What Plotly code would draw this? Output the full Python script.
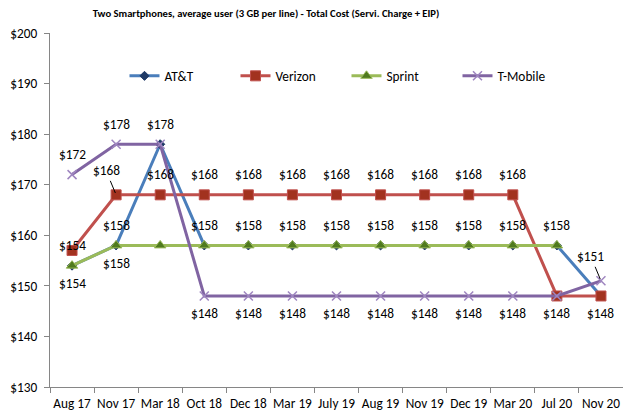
import plotly.graph_objects as go

categories = ["Aug 17", "Nov 17", "Mar 18", "Oct 18", "Dec 18", "Mar 19", "July 19",
              "Aug 19", "Nov 19", "Dec 19", "Mar 20", "Jul 20", "Nov 20"]
att = [154, 158, 178, 158, 158, 158, 158, 158, 158, 158, 158, 158, 148]
verizon = [157, 168, 168, 168, 168, 168, 168, 168, 168, 168, 168, 148, 148]
sprint = [154, 158, 158, 158, 158, 158, 158, 158, 158, 158, 158, 158, None]
tmobile = [172, 178, 178, 148, 148, 148, 148, 148, 148, 148, 148, 148, 151]

# label placement: a = above, b = below, l = leader line, "" = hidden
att_lbl = ["a", "a", "a", "a", "a", "a", "a", "a", "a", "a", "a", "a", "b"]
verizon_lbl = ["", "l", "a", "a", "a", "a", "a", "a", "a", "a", "a", "", ""]
sprint_lbl = ["b", "b", "", "", "", "", "", "", "", "", "", "", ""]
tmobile_lbl = ["a", "a", "", "b", "b", "b", "b", "b", "b", "b", "b", "b", "l"]

FONT = "Carlito, Liberation Sans, Arial, sans-serif"
FS = 13.3

series = [
    ("AT&T", att, att_lbl, "#4A7EBB", dict(symbol="diamond", size=7, color="#1F3A66",
                                          line=dict(color="#1F3A66", width=1))),
    ("Verizon", verizon, verizon_lbl, "#C0504D", dict(symbol="square", size=10, color="#A2321F",
                                                       line=dict(color="#C0504D", width=1))),
    ("Sprint", sprint, sprint_lbl, "#9BBB59", dict(symbol="triangle-up", size=10, color="#4F7A1E",
                                                    line=dict(color="#9BBB59", width=1))),
    ("T-Mobile", tmobile, tmobile_lbl, "#8064A2", dict(symbol="x-thin", size=9, color="#8064A2",
                                                        line=dict(color="#9F86C0", width=1.5))),
]

fig = go.Figure()
annotations = []
for name, vals, lbls, col, mk in series:
    fig.add_trace(go.Scatter(x=categories, y=vals, name=name, mode="lines+markers",
                             line=dict(color=col, width=3), marker=mk))
    for c, v, l in zip(categories, vals, lbls):
        if v is None or not l:
            continue
        txt = f"${v}"
        if l == "a":
            annotations.append(dict(x=c, y=v, text=txt, showarrow=False, yshift=20,
                                    font=dict(size=FS, color="#000", family=FONT)))
        elif l == "b":
            annotations.append(dict(x=c, y=v, text=txt, showarrow=False, yshift=-18,
                                    font=dict(size=FS, color="#000", family=FONT)))
        else:
            annotations.append(dict(x=c, y=v, text=txt, showarrow=True, arrowhead=0,
                                    arrowwidth=1, arrowcolor="#000", ax=-10, ay=-24,
                                    standoff=2,
                                    font=dict(size=FS, color="#000", family=FONT)))

fig.update_layout(
    width=623, height=413,
    margin=dict(l=50, r=0, t=33, b=26),
    paper_bgcolor="white", plot_bgcolor="white",
    font=dict(family=FONT, size=FS, color="#000"),
    title=dict(text="<b>Two Smartphones, average user (3 GB per line) - Total Cost (Servi. Charge + EIP)</b>",
               x=266 / 623, xref="container", xanchor="center",
               y=1 - 13 / 413, yref="container", yanchor="middle",
               font=dict(size=10.6, family=FONT, color="#000")),
    legend=dict(orientation="h", x=0.13, xanchor="left", y=0.878, yanchor="middle",
                bgcolor="rgba(0,0,0,0)", font=dict(size=FS, family=FONT),
                entrywidth=66, entrywidthmode="pixels", itemwidth=30),
    annotations=annotations,
    showlegend=True,
)
fig.update_xaxes(type="category", range=[-0.5, 12.5], tickson="boundaries",
                 ticks="outside", ticklen=5, tickcolor="#868686", ticklabelstandoff=4,
                 tickangle=0, automargin=False,
                 showline=True, linecolor="#868686", linewidth=1, showgrid=False,
                 tickfont=dict(size=FS, family=FONT))
fig.update_yaxes(range=[130, 200], dtick=10, tickprefix="$", ticks="outside", ticklen=5,
                 tickcolor="#868686", showline=True, linecolor="#868686", linewidth=1,
                 ticklabelstandoff=4, automargin=False,
                 showgrid=False, zeroline=False, tickfont=dict(size=FS, family=FONT))

fig.write_html("out.html", config={"displayModeBar": False},
               post_script="document.body.style.margin='0';document.body.style.overflow='hidden';")
